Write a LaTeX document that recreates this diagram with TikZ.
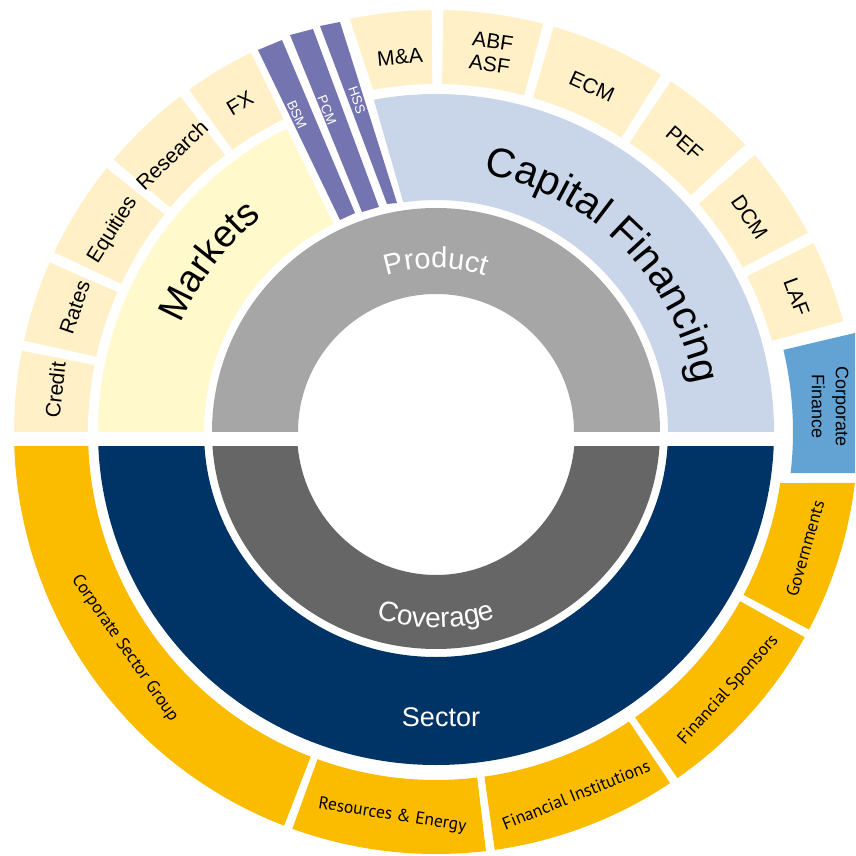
\documentclass[tikz,border=0pt]{standalone}
\usepackage{fontspec}
\setmainfont{Liberation Sans}
\newfontfamily\humanist{PT Sans}
\usetikzlibrary{decorations.text}

\definecolor{paleorange}{HTML}{FFF0C8}
\definecolor{paleyellow}{HTML}{FFF9CC}
\definecolor{paleblue}{HTML}{C9D5E8}
\definecolor{barpurple}{HTML}{7474B0}
\definecolor{lightgrey}{HTML}{A6A6A6}
\definecolor{darkgrey}{HTML}{666666}
\definecolor{navy}{HTML}{003466}
\definecolor{gold}{HTML}{FBBC00}
\definecolor{midblue}{HTML}{62A3D4}

\tikzset{
  toplabel/.style={font=\fontsize{21}{23}\selectfont,inner sep=0pt},
  botlabel/.style={font=\humanist\fontsize{17.5}{19}\selectfont,inner sep=0pt},
  barlabel/.style={font=\fontsize{13.5}{14}\selectfont,text=white,inner sep=0pt},
}

\begin{document}
\begin{tikzpicture}[x=1pt,y=1pt]
\useasboundingbox (-436,-424) rectangle (419,432);
\clip (-436,-424) rectangle (419,432);
\fill[white] (-436,-424) rectangle (419,432);

% top half
\fill[lightgrey] (180:224pt) arc[start angle=180,end angle=0,radius=224pt] -- (0:138pt) arc[start angle=0,end angle=180,radius=138pt] -- cycle;
\fill[paleyellow] (180:232pt) -- (180:338pt) arc[start angle=180,end angle=116.2,radius=338pt] -- (116.2:232pt) arc[start angle=116.2,end angle=180,radius=232pt] -- cycle;
\fill[paleblue] (98.1:232pt) -- (100.6:338pt) arc[start angle=100.6,end angle=0,radius=338pt] -- (0:232pt) arc[start angle=0,end angle=98.1,radius=232pt] -- cycle;

\fill[paleorange] (180:348pt) -- (180:422pt) arc[start angle=180,end angle=168.9,radius=422pt] -- (168.9:348pt) arc[start angle=168.9,end angle=180,radius=348pt] -- cycle;
\fill[paleorange] (167.5:348pt) -- (167.5:422pt) arc[start angle=167.5,end angle=156.3,radius=422pt] -- (156.3:348pt) arc[start angle=156.3,end angle=167.5,radius=348pt] -- cycle;
\fill[paleorange] (154.8:348pt) -- (154.8:422pt) arc[start angle=154.8,end angle=141.3,radius=422pt] -- (141.3:348pt) arc[start angle=141.3,end angle=154.8,radius=348pt] -- cycle;
\fill[paleorange] (139.8:348pt) -- (139.8:422pt) arc[start angle=139.8,end angle=127.3,radius=422pt] -- (127.3:348pt) arc[start angle=127.3,end angle=139.8,radius=348pt] -- cycle;
\fill[paleorange] (125.8:348pt) -- (125.8:422pt) arc[start angle=125.8,end angle=116,radius=422pt] -- (116:348pt) arc[start angle=116,end angle=125.8,radius=348pt] -- cycle;
\fill[paleorange] (100.4:348pt) -- (101.8:422pt) arc[start angle=101.8,end angle=90.6,radius=422pt] -- (90.6:348pt) arc[start angle=90.6,end angle=100.4,radius=348pt] -- cycle;
\fill[paleorange] (89:348pt) -- (89:422pt) arc[start angle=89,end angle=75.3,radius=422pt] -- (75.3:348pt) arc[start angle=75.3,end angle=89,radius=348pt] -- cycle;
\fill[paleorange] (73.8:348pt) -- (73.8:422pt) arc[start angle=73.8,end angle=57.8,radius=422pt] -- (57.8:348pt) arc[start angle=57.8,end angle=73.8,radius=348pt] -- cycle;
\fill[paleorange] (56.2:348pt) -- (56.2:422pt) arc[start angle=56.2,end angle=42.9,radius=422pt] -- (42.9:348pt) arc[start angle=42.9,end angle=56.2,radius=348pt] -- cycle;
\fill[paleorange] (41:348pt) -- (41:422pt) arc[start angle=41,end angle=28.2,radius=422pt] -- (28.2:348pt) arc[start angle=28.2,end angle=41,radius=348pt] -- cycle;
\fill[paleorange] (26.6:348pt) -- (26.6:422pt) arc[start angle=26.6,end angle=15.2,radius=422pt] -- (15.2:348pt) arc[start angle=15.2,end angle=26.6,radius=348pt] -- cycle;

% bars
\fill[barpurple] (-178,382) -- (-154,392) -- (-81,219) -- (-96,212) -- cycle;
\fill[barpurple] (-146,397) -- (-123,403) -- (-57,225) -- (-74,220) -- cycle;
\fill[barpurple] (-116,406) -- (-96,410) -- (-39,229) -- (-49,228) -- cycle;

% corporate finance
\fill[midblue] (13.3:470pt) -- (13.3:357pt) arc[start angle=13.3,end angle=-6.6,radius=357pt] -- (470,-41) -- cycle;

% bottom half
\begin{scope}
\clip (-440,-15) rectangle (440,-440);
\fill[darkgrey] (-224,0) arc[start angle=180,end angle=360,x radius=224pt,y radius=217pt] -- (139,0) arc[start angle=360,end angle=180,x radius=139pt,y radius=143pt] -- cycle;
\fill[navy] (-338,0) arc[start angle=180,end angle=360,x radius=338pt,y radius=333pt] -- (232,0) arc[start angle=360,end angle=180,x radius=232pt,y radius=225pt] -- cycle;
\fill[gold] (180:348pt) -- (180:422pt) arc[start angle=180,end angle=248.9,radius=422pt] -- (248.9:348pt) arc[start angle=248.9,end angle=180,radius=348pt] -- cycle;
\fill[gold] (250.1:348pt) -- (250.1:422pt) arc[start angle=250.1,end angle=276.8,radius=422pt] -- (276.8:348pt) arc[start angle=276.8,end angle=250.1,radius=348pt] -- cycle;
\fill[gold] (278:348pt) -- (278:422pt) arc[start angle=278,end angle=303.7,radius=422pt] -- (303.7:348pt) arc[start angle=303.7,end angle=278,radius=348pt] -- cycle;
\fill[gold] (304.9:348pt) -- (304.9:422pt) arc[start angle=304.9,end angle=330.9,radius=422pt] -- (330.9:348pt) arc[start angle=330.9,end angle=304.9,radius=348pt] -- cycle;
\fill[gold] (-8.43:348pt) -- (-6.94:422pt) arc[start angle=-6.94,end angle=-27.9,radius=422pt] -- (-27.9:348pt) arc[start angle=-27.9,end angle=-8.43,radius=348pt] -- cycle;
\end{scope}

% curved titles
\path[decorate,decoration={text along path,text align=center,text={|\fontsize{29}{29}\selectfont|Product},text color=white}] (125:164pt) arc[start angle=125,end angle=55,radius=164pt];
\path[decorate,decoration={text along path,text align=center,text={|\fontsize{28}{28}\selectfont|Coverage},text color=white}] (230:196pt) arc[start angle=230,end angle=310,radius=196pt];
\path[decorate,decoration={text along path,text align=center,text={|\fontsize{38}{38}\selectfont|Markets}}] (170:277pt) arc[start angle=170,end angle=116,radius=277pt];
\path[decorate,decoration={text along path,text align=center,text={|\fontsize{41}{41}\selectfont|Capital Financing}}] (90:262pt) arc[start angle=90,end angle=0,radius=262pt];
\node[font=\fontsize{27}{27}\selectfont,text=white] (sector) at (5,-285) {Sector};

% outer labels
\node[toplabel,rotate=83.7] (credit) at (173.7:383pt) {Credit};
\node[toplabel,rotate=71] (rates) at (161:382pt) {Rates};
\node[toplabel,rotate=58] (equities) at (148:381pt) {Equities};
\node[toplabel,rotate=43.6] (research) at (133.6:383pt) {Research};
\node[toplabel,rotate=30.8] (fx) at (120.8:383pt) {FX};
\node[toplabel,rotate=5.5] (ma) at (95.5:377pt) {M\&A};
\node[toplabel,rotate=-8.3,align=center] (abf) at (81.7:383pt) {ABF\\ASF};
\node[toplabel,rotate=-24.3] (ecm) at (65.7:379pt) {ECM};
\node[toplabel,rotate=-40.7] (pef) at (49.3:381pt) {PEF};
\node[toplabel,rotate=-55.6] (dcm) at (34.4:380pt) {DCM};
\node[toplabel,rotate=-69.5] (laf) at (20.5:385pt) {LAF};
\node[font=\fontsize{18}{24}\selectfont,rotate=-90,align=center,inner sep=0pt] (corpfin) at (394,25) {Corporate\\Finance};

\node[barlabel,rotate=-65.6] (bsm) at (-139,317) {BSM};
\node[barlabel,rotate=-68.8] (pcm) at (-109,322) {PCM};
\node[barlabel,rotate=-71] (hss) at (-79,332) {HSS};

\node[botlabel,rotate=-55.2] (csg) at (214.8:379pt) {Corporate Sector Group};
\node[botlabel,rotate=-9] (resources) at (263.5:386pt) {Resources \& Energy};
\node[botlabel,rotate=22] (fininst) at (291.1:389pt) {Financial Institutions};
\node[botlabel,rotate=48] (finspons) at (318.6:390pt) {Financial Sponsors};
\node[botlabel,rotate=74] (govts) at (342.5:387pt) {Governments};
\end{tikzpicture}
\end{document}
